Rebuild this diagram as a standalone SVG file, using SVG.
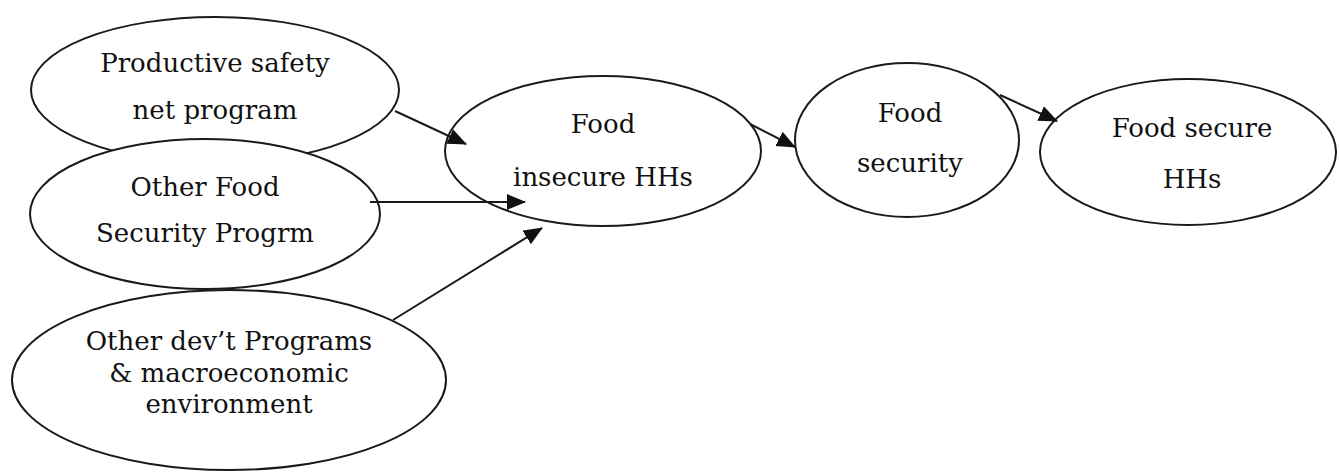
<svg xmlns="http://www.w3.org/2000/svg" width="1339" height="472" viewBox="0 0 1339 472">
<style>
.n ellipse{fill:#fff;stroke:#1a1a1a;stroke-width:2}
.n text{font-family:"DejaVu Serif","Liberation Serif",serif;font-size:26px;fill:#111;text-anchor:middle}
.c line{stroke:#1a1a1a;stroke-width:2}
</style>
<defs>
<marker id="ah" markerUnits="userSpaceOnUse" markerWidth="22" markerHeight="20" refX="18" refY="8" orient="auto">
<path d="M0,0 L19,8 L0,16 z" fill="#111"/>
</marker>
</defs>
<rect width="1339" height="472" fill="#fff"/>
<g id="psnp" class="n">
<ellipse cx="215" cy="90" rx="184" ry="73"/>
<text x="215" y="72">Productive safety</text>
<text x="215" y="119">net program</text>
</g>
<g id="ofsp" class="n">
<ellipse cx="205" cy="214" rx="175" ry="75"/>
<text x="205" y="196">Other Food</text>
<text x="205" y="242">Security Progrm</text>
</g>
<g id="odp" class="n">
<ellipse cx="229" cy="380" rx="217" ry="90"/>
<text x="229" y="350">Other dev’t Programs</text>
<text x="229" y="382">&amp; macroeconomic</text>
<text x="229" y="413">environment</text>
</g>
<g id="fih" class="n">
<ellipse cx="603" cy="151" rx="158" ry="75"/>
<text x="603" y="133">Food</text>
<text x="603" y="186">insecure HHs</text>
</g>
<g id="fs" class="n">
<ellipse cx="907" cy="140" rx="112" ry="77"/>
<text x="910" y="122">Food</text>
<text x="910" y="172">security</text>
</g>
<g id="fsh" class="n">
<ellipse cx="1188" cy="152" rx="148" ry="73"/>
<text x="1192" y="137">Food secure</text>
<text x="1192" y="188">HHs</text>
</g>
<g id="connectors" class="c">
<line x1="395" y1="111" x2="466" y2="144" marker-end="url(#ah)"/>
<line x1="370" y1="202" x2="525" y2="202" marker-end="url(#ah)"/>
<line x1="393" y1="320" x2="542" y2="228" marker-end="url(#ah)"/>
<line x1="750" y1="124" x2="795" y2="147" marker-end="url(#ah)"/>
<line x1="1000" y1="95" x2="1057" y2="121" marker-end="url(#ah)"/>
</g>
</svg>
